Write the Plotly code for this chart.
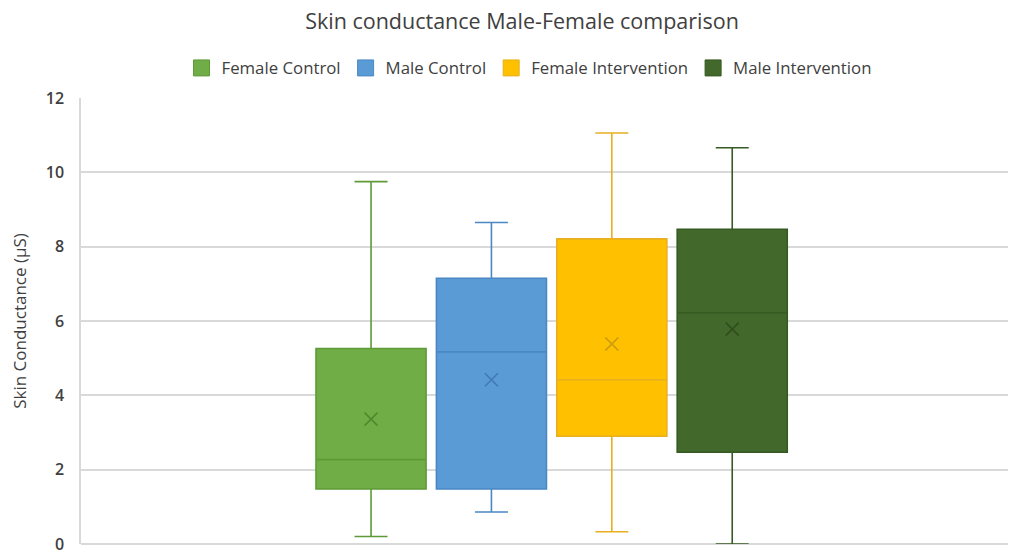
import plotly.graph_objects as go

groups = ["Female Control", "Male Control", "Female Intervention", "Male Intervention"]
lower = [0.20, 0.86, 0.33, 0.0]
q1 = [1.48, 1.48, 2.90, 2.47]
median = [2.27, 5.17, 4.42, 6.22]
q3 = [5.26, 7.15, 8.21, 8.47]
upper = [9.75, 8.65, 11.06, 10.66]
mean = [3.36, 4.42, 5.38, 5.78]
y_ticks = [0, 2, 4, 6, 8, 10, 12]

fills = ["#70AD47", "#5B9BD5", "#FFC000", "#43682B"]
lines = ["#5E9B37", "#4A88C4", "#E8B020", "#375A22"]
mean_cols = ["#4F8A2C", "#3F7AB5", "#C99A10", "#2F4E1C"]

# the page body adds an 8px offset; compensate in layout
OFF = 8
W, H = 1016, 550

fig = go.Figure()
for i, g in enumerate(groups):
    fig.add_trace(go.Box(
        x=[g], q1=[q1[i]], median=[median[i]], q3=[q3[i]],
        lowerfence=[lower[i]], upperfence=[upper[i]],
        name=g, fillcolor=fills[i], line=dict(color=lines[i], width=1.6),
        width=0.914, whiskerwidth=0.3, boxpoints=False, showlegend=False,
    ))
    fig.add_trace(go.Scatter(
        x=[g], y=[mean[i]], mode="markers", showlegend=False,
        marker=dict(symbol="x-thin-open", size=13, color=mean_cols[i],
                    line=dict(color=mean_cols[i], width=1.6)),
    ))
    # legend entry
    fig.add_trace(go.Scatter(
        x=[None], y=[None], mode="markers", name=g,
        marker=dict(symbol="square", size=16, color=fills[i], line=dict(color=lines[i], width=1)),
    ))

fig.update_layout(
    width=W, height=H,
    margin=dict(l=81 - OFF, r=0, t=98 - OFF, b=H - (544 - OFF), autoexpand=False),
    paper_bgcolor="white", plot_bgcolor="white",
    font=dict(family="Open Sans", color="#404040"),
    title=dict(text="Skin conductance Male-Female comparison", x=(522 - OFF) / W, xanchor="center",
               xref="container", y=1 - (21 - OFF) / H, yanchor="middle", yref="container",
               font=dict(size=21.5, color="#404040")),
    legend=dict(orientation="h", xref="container", x=(529 - OFF) / W, xanchor="center",
                yref="container", y=1 - (68 - OFF) / H, yanchor="middle",
                font=dict(size=16.8, color="#404040"), itemwidth=30, tracegroupgap=0),
    boxmode="overlay",
)
fig.update_xaxes(type="category", categoryorder="array", categoryarray=groups,
                 range=[-2.409, 5.357 + OFF / 120.4], showticklabels=False, showgrid=False,
                 zeroline=False, showline=False, fixedrange=True, automargin=False)
fig.update_yaxes(range=[0, 12], tickvals=y_ticks, showgrid=True, gridcolor="#D9D9D9", gridwidth=1.5,
                 zeroline=True, zerolinecolor="#D9D9D9", zerolinewidth=1.5,
                 showline=True, linecolor="#D9D9D9", linewidth=1.5, automargin=False,
                 ticklabelstandoff=12,
                 tickfont=dict(size=16, color="#404040", family="Open Sans", weight=600),
                 title=dict(text="Skin Conductance (μS)", font=dict(size=17, color="#404040"), standoff=16))

fig.write_html("out.html")
